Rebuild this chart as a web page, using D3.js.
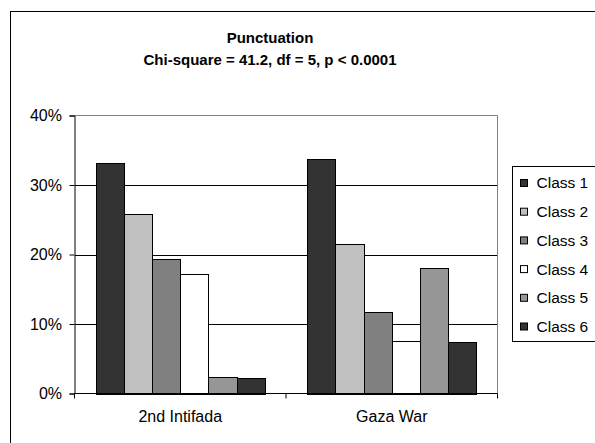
<!DOCTYPE html>
<meta charset="utf-8">
<style>

body {
  margin: 0;
  font-family: 'Liberation Sans', Arial, sans-serif;
  background: #fff;
}

svg {
  display: block;
}

.grid line {
  stroke: #000;
  stroke-width: 1px;
  shape-rendering: crispEdges;
}

.bar {
  stroke: #000;
  stroke-width: 1px;
  shape-rendering: crispEdges;
}

</style>
<body>

<script src="https://cdn.jsdelivr.net/npm/d3@7"></script>
<script>

var categories = ["2nd Intifada", "Gaza War"];
var classes = ["Class 1", "Class 2", "Class 3", "Class 4", "Class 5", "Class 6"];
var intifada = [0.332, 0.258, 0.194, 0.172, 0.024, 0.022];
var gazaWar = [0.337, 0.215, 0.117, 0.075, 0.181, 0.074];
var yTicks = [0, 0.1, 0.2, 0.3, 0.4];
var titleLines = ["Punctuation", "Chi-square = 41.2, df = 5, p < 0.0001"];

var colors = ["#333333", "#c0c0c0", "#808080", "#ffffff", "#969696", "#333333"];

var width = 595,
    height = 443;

var plot = {left: 74.5, right: 497.5, top: 115.5, bottom: 393.5};

var svg = d3.select("body")
    .append("svg")
    .attr("width", width)
    .attr("height", height);

// outer chart frame (runs off the right and bottom edge)
svg.append("rect")
    .attr("x", 10.5)
    .attr("y", 11.5)
    .attr("width", 620)
    .attr("height", 460)
    .attr("fill", "#fff")
    .attr("stroke", "#000");

// title
svg.append("g")
    .selectAll("text")
    .data(titleLines)
    .enter().append("text")
    .attr("x", 270)
    .attr("y", function(d, i) { return 43 + i * 22; })
    .attr("text-anchor", "middle")
    .attr("font-weight", "bold")
    .attr("font-size", "15px")
    .text(function(d) { return d; });

var y = d3.scaleLinear()
    .domain([0, 0.4])
    .range([plot.bottom, plot.top]);

var x0 = d3.scaleBand()
    .domain(categories)
    .range([plot.left, plot.right])
    .padding(0);

var x1 = d3.scaleBand()
    .domain(classes)
    .range([0, x0.bandwidth()])
    .paddingInner(0)
    .paddingOuter(0.75);

// gridlines
svg.append("g")
    .attr("class", "grid")
    .selectAll("line")
    .data(yTicks.filter(function(d) { return d > 0 && d < 0.4; }))
    .enter().append("line")
    .attr("x1", plot.left)
    .attr("x2", plot.right)
    .attr("y1", function(d) { return Math.round(y(d)) + 0.5; })
    .attr("y2", function(d) { return Math.round(y(d)) + 0.5; });

// plot area border top/right in gray
svg.append("path")
    .attr("d", "M" + plot.left + "," + plot.top + "H" + plot.right + "V" + plot.bottom)
    .attr("fill", "none")
    .attr("stroke", "#808080");

var rows = [intifada, gazaWar];
var data = [];
categories.forEach(function(c, ci) {
    classes.forEach(function(k, ki) {
        data.push({cat: c, cls: k, idx: ki, value: rows[ci][ki]});
    });
});

svg.append("g")
    .selectAll("rect")
    .data(data)
    .enter().append("rect")
    .attr("class", "bar")
    .attr("x", function(d) { return Math.round(x0(d.cat) + x1(d.cls)) + 0.5; })
    .attr("width", function(d) {
        var a = Math.round(x0(d.cat) + x1(d.cls));
        var b = Math.round(x0(d.cat) + x1(d.cls) + x1.bandwidth());
        return b - a;
    })
    .attr("y", function(d) { return Math.round(y(d.value)) + 0.5; })
    .attr("height", function(d) { return Math.round(y(0)) - Math.round(y(d.value)); })
    .attr("fill", function(d) { return colors[d.idx]; });

// y axis
var yAxis = d3.axisLeft(y)
    .tickValues(yTicks)
    .tickFormat(d3.format(".0%"))
    .tickSize(5)
    .tickPadding(7.5);

var gy = svg.append("g")
    .attr("transform", "translate(" + plot.left + ",0)")
    .call(yAxis);
gy.select(".domain").attr("stroke", "#000");
gy.selectAll("text")
    .attr("font-family", "'Liberation Sans', Arial, sans-serif")
    .attr("font-size", "16px")
    .attr("fill", "#000");

// x axis with ticks between categories
var gx = svg.append("g")
    .attr("transform", "translate(0," + plot.bottom + ")");
gx.append("line")
    .attr("x1", plot.left)
    .attr("x2", plot.right)
    .attr("stroke", "#000");
gx.selectAll("line.tick")
    .data([plot.left, x0(categories[1]), plot.right])
    .enter().append("line")
    .attr("class", "tick")
    .attr("x1", function(d) { return d; })
    .attr("x2", function(d) { return d; })
    .attr("y1", 0)
    .attr("y2", 5)
    .attr("stroke", "#000");
gx.selectAll("text")
    .data(categories)
    .enter().append("text")
    .attr("x", function(d) { return x0(d) + x0.bandwidth() / 2; })
    .attr("y", 28)
    .attr("text-anchor", "middle")
    .attr("font-size", "16px")
    .text(function(d) { return d; });

// legend
var legend = svg.append("g")
    .attr("transform", "translate(512.5,166.5)");
legend.append("rect")
    .attr("width", 120)
    .attr("height", 175)
    .attr("fill", "#fff")
    .attr("stroke", "#000");
var item = legend.selectAll("g.item")
    .data(classes)
    .enter().append("g")
    .attr("class", "item")
    .attr("transform", function(d, i) { return "translate(0," + (16.5 + i * 28.7) + ")"; });
item.append("rect")
    .attr("x", 8)
    .attr("y", -3.5)
    .attr("width", 7)
    .attr("height", 7)
    .attr("fill", function(d, i) { return colors[i]; })
    .attr("stroke", "#000");
item.append("text")
    .attr("x", 24)
    .attr("dy", "0.35em")
    .attr("font-size", "15.5px")
    .text(function(d) { return d; });

</script>

</body>
